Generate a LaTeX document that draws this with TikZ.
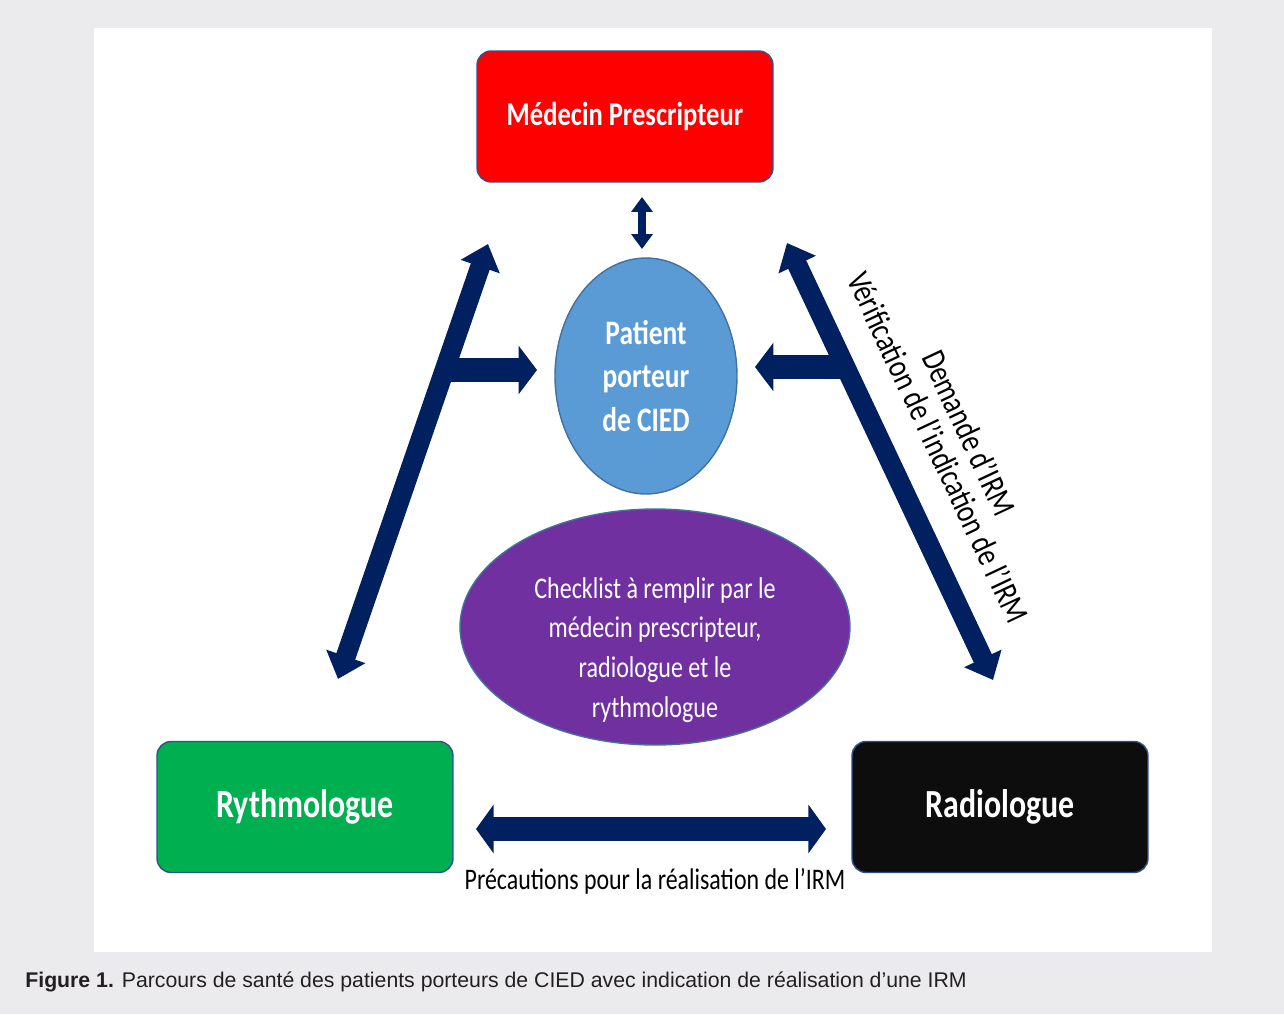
\documentclass[tikz,border=0pt]{standalone}
\usepackage{fontspec}
\setmainfont{Liberation Sans}
\newfontfamily\calib[FakeStretch=0.8]{Carlito}
\usetikzlibrary{arrows.meta,shapes.geometric,positioning}

\definecolor{pagegray}{HTML}{EBEBED}
\definecolor{navy}{HTML}{002060}
\definecolor{boxline}{HTML}{2F528F}
\definecolor{medred}{HTML}{FF0000}
\definecolor{rythgreen}{HTML}{00B050}
\definecolor{radblack}{HTML}{0D0D0D}
\definecolor{patblue}{HTML}{5B9BD5}
\definecolor{patline}{HTML}{41719C}
\definecolor{chkpurple}{HTML}{7030A0}
\definecolor{captext}{HTML}{231F20}

\tikzset{actor/.style={draw=boxline, line width=0.8pt, rounded corners=8pt,
  minimum width=5.92cm, minimum height=2.62cm, text=white}}
\tikzstyle{oval}=[ellipse, draw=patline, line width=0.8pt, inner sep=0pt, text=white, align=center]
\tikzstyle{flow}=[navy, line width=11.3pt,
  arrows={Triangle[width=22.7pt,length=13.6pt]-Triangle[width=22.7pt,length=13.6pt]}]
\tikzstyle{branch}=[navy, line width=13.6pt, arrows={-Triangle[width=27.2pt,length=10.5pt]}]

\begin{document}
\begin{tikzpicture}[x=0.02cm, y=-0.02cm]
% page and panel
\fill[pagegray] (0,0) rectangle (1284,1014);
\fill[white] (94,28) rectangle (1212,952);

% the three actors
\node[actor, fill=medred, font=\calib\bfseries\fontsize{18.9}{22}\selectfont] (med) at (625,116.5) {Médecin Prescripteur};
\node[actor, fill=rythgreen, font=\calib\bfseries\fontsize{22.7}{26}\selectfont] (ryth) at (305,807) {Rythmologue};
\node[actor, fill=radblack, font=\calib\bfseries\fontsize{22.7}{26}\selectfont] (rad) at (1000,807) {Radiologue};

% patient and checklist
\node[oval, fill=patblue, minimum width=3.64cm, minimum height=4.72cm,
  font=\calib\bfseries\fontsize{19.5}{25}\selectfont] (pat) at (646,376) {Patient\\porteur\\de CIED};
\node[oval, fill=chkpurple, minimum width=7.8cm, minimum height=4.72cm] (chk) at (655,627) {};
\node[text=white, align=center, font=\calib\fontsize{17.1}{22.7}\selectfont] (chktxt) at (655,650)
  {Checklist à remplir par le\\médecin prescripteur,\\radiologue et le\\rythmologue};

% arrow ends
\coordinate (lt) at (488,244);
\coordinate (lb) at (338,679);
\coordinate (rt) at (787,243);
\coordinate (rb) at (993,680);
\coordinate (lj) at (447,370);
\coordinate (lh) at (537,370);
\coordinate (rj) at (843,367);
\coordinate (rh) at (755,367);
\coordinate (bl) at (476,829);
\coordinate (br) at (826,829);
\coordinate (mt) at (642,197);
\coordinate (mb) at (642,249);

% block arrows
\draw[flow] (lt) -- (lb);
\draw[flow] (rt) -- (rb);
\draw[branch] (lj) -- (lh);
\draw[branch] (rj) -- (rh);
\draw[navy, line width=13.6pt,
  arrows={Triangle[width=27.2pt,length=10pt]-Triangle[width=27.2pt,length=10pt]}] (bl) -- (br);
\draw[navy, line width=4.5pt,
  arrows={Triangle[width=11.9pt,length=8.5pt]-Triangle[width=11.9pt,length=8.5pt]}] (mt) -- (mb);

% labels
\node[font=\calib\fontsize{17}{20}\selectfont] (prec) at (655,881) {Précautions pour la réalisation de l’IRM};
\node[font=\calib\fontsize{19.2}{19.5}\selectfont, align=center, rotate=-64.8] (dem) at (954,440)
  {Demande d’IRM\\Vérification de l’indication de l’IRM};

% caption
\node[anchor=base west, inner sep=0pt, text=captext, font=\fontsize{12.1}{14}\selectfont] (cap) at (25,987)
  {\textbf{Figure 1.} Parcours de santé des patients porteurs de CIED avec indication de réalisation d’une IRM};
\end{tikzpicture}
\end{document}
